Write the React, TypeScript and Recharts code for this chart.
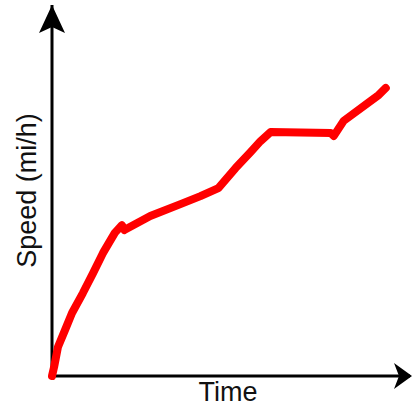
import { LineChart, Line, XAxis, YAxis, ReferenceDot, ReferenceLine } from 'recharts'

// hand-drawn speed curve (arbitrary units)
const timeValues = [0, 0.6, 1.7, 3.7, 5.7, 8.8, 11.7, 14.5, 17.9, 19.9, 20.6, 28, 36.6, 42.3, 47.4, 52.3, 56.6, 59.4, 62.3, 79.4, 80.3, 83.1, 90, 93.1, 95.1]
const speedValues = [0, 2.6, 8.3, 13.1, 18, 23.7, 29.4, 35.1, 40.9, 43.1, 41.7, 45.7, 49.1, 51.4, 53.7, 59.4, 64, 67.1, 69.7, 69.4, 68.6, 72.9, 78, 80.3, 82.3]

const X_MAX = 102
const Y_MAX = 106

const data = timeValues.map((t, i) => ({ time: t, speed: speedValues[i] }))

const labelStyle = { fontSize: 27, fill: '#111' }

const UpArrow = ({ cx, cy }: any) => (
  <path d={`M${cx},${cy} L${cx + 13},${cy + 28} L${cx},${cy + 22} L${cx - 13},${cy + 28} Z`} fill="#000" />
)

const RightArrow = ({ cx, cy }: any) => (
  <path d={`M${cx + 2},${cy} L${cx - 16},${cy + 13} L${cx - 11},${cy} L${cx - 16},${cy - 13} Z`} fill="#000" />
)

const TimeLabel = ({ viewBox }: any) => (
  <text x={viewBox.x + viewBox.width / 2 - 3} y={viewBox.y + 16} textAnchor="middle" dominantBaseline="central" style={labelStyle}>
    Time
  </text>
)

const SpeedLabel = ({ viewBox }: any) => {
  const cy = viewBox.y + viewBox.height / 2
  return (
    <text x={27} y={cy} transform={`rotate(-90, 27, ${cy})`} textAnchor="middle" dominantBaseline="central" style={labelStyle}>
      Speed (mi/h)
    </text>
  )
}

export default function App() {
  return (
    <div style={{ position: 'absolute', left: 0, top: 0, fontFamily: 'Liberation Sans, Arial, sans-serif' }}>
      <LineChart width={413} height={407} data={data} margin={{ top: 5, right: 3, left: 52, bottom: 31 }}>
        <XAxis dataKey="time" type="number" domain={[0, X_MAX]} hide />
        <YAxis type="number" domain={[0, Y_MAX]} hide />
        <ReferenceLine y={0} stroke="#000" strokeWidth={3} ifOverflow="visible" label={<TimeLabel />} />
        <ReferenceLine x={0} stroke="#000" strokeWidth={3} ifOverflow="visible" label={<SpeedLabel />} />
        <ReferenceDot x={0} y={Y_MAX} r={0} shape={UpArrow} ifOverflow="visible" />
        <ReferenceDot x={X_MAX} y={0} r={0} shape={RightArrow} ifOverflow="visible" />
        <Line
          dataKey="speed"
          type="linear"
          stroke="#ff0000"
          strokeWidth={8}
          strokeLinecap="round"
          strokeLinejoin="round"
          dot={false}
          activeDot={false}
          isAnimationActive={false}
        />
      </LineChart>
    </div>
  )
}
